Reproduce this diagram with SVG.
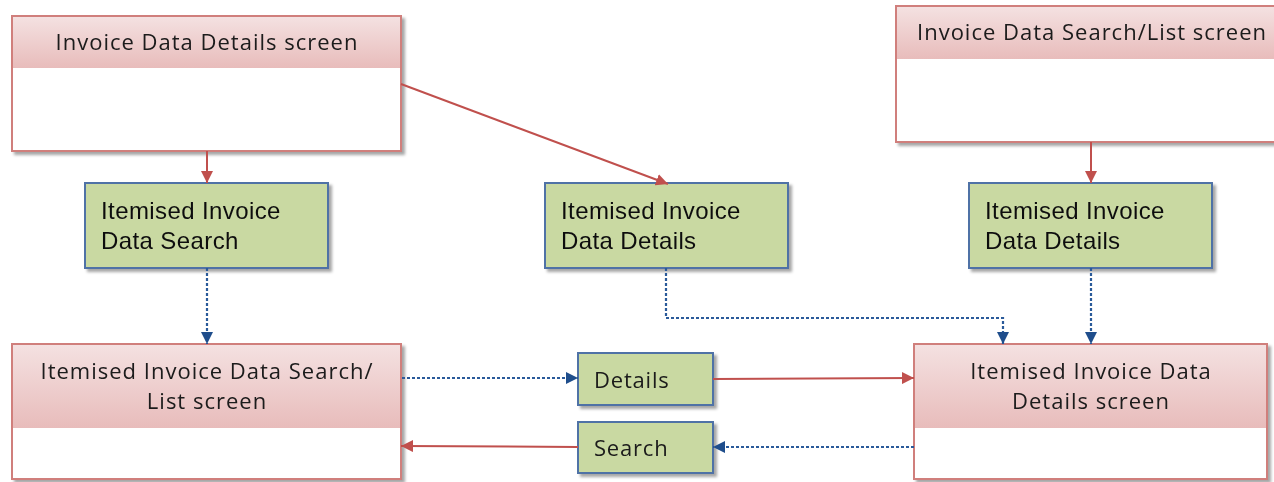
<svg xmlns="http://www.w3.org/2000/svg" width="1274" height="482" viewBox="0 0 1274 482">
<style>
.scr{fill:#ffffff;stroke:#d07f7c;stroke-width:2}
.hdr{fill:url(#pink)}
.grn{fill:#c9d9a2;stroke:#4f72a6;stroke-width:2}
.t1{font-family:"Open Sans","Liberation Sans",sans-serif;font-size:22px;letter-spacing:1px;fill:#1a1a1a}
.t3{font-family:"Open Sans","Liberation Sans",sans-serif;font-size:22px;letter-spacing:0.8px;fill:#1a1a1a}
.t2{font-family:"Liberation Sans",Arial,sans-serif;font-size:24px;letter-spacing:0.4px;fill:#111}
.red{stroke:#c0504d;stroke-width:2;fill:none}
.blu{stroke:#2a5a9a;stroke-width:2.2;fill:none;stroke-dasharray:3 2}
</style>
<defs>
<linearGradient id="pink" x1="0" y1="0" x2="0" y2="1">
<stop offset="0" stop-color="#f4e1e1"/>
<stop offset="1" stop-color="#e8bcbb"/>
</linearGradient>
<filter id="sh" x="-5%" y="-5%" width="115%" height="125%">
<feDropShadow dx="3" dy="3" stdDeviation="1.5" flood-color="#000" flood-opacity="0.35"/>
</filter>
<marker id="ar" viewBox="0 0 10 10" refX="10" refY="5" markerWidth="6" markerHeight="6" markerUnits="strokeWidth" orient="auto">
<path d="M0,0 L10,5 L0,10 z" fill="#c0504d"/>
</marker>
<marker id="ab" viewBox="0 0 10 10" refX="10" refY="5" markerWidth="5.5" markerHeight="5.5" markerUnits="strokeWidth" orient="auto">
<path d="M0,0 L10,5 L0,10 z" fill="#1f4e8c"/>
</marker>
</defs>

<g id="invoice-details-screen" filter="url(#sh)">
<rect class="scr" x="12" y="16" width="389" height="135"/>
<rect class="hdr" x="13" y="17" width="387" height="51"/>
<text class="t1" x="207" y="50" text-anchor="middle">Invoice Data Details screen</text>
</g>

<g id="invoice-search-list-screen" filter="url(#sh)">
<rect class="scr" x="896" y="6" width="390" height="136"/>
<rect class="hdr" x="897" y="7" width="390" height="52"/>
<text class="t1" x="917" y="40">Invoice Data Search/List screen</text>
</g>

<g id="itemised-search" filter="url(#sh)">
<rect class="grn" x="85" y="183" width="243" height="85"/>
<text class="t2" x="101" y="219">Itemised Invoice</text>
<text class="t2" x="101" y="249">Data Search</text>
</g>

<g id="itemised-details-mid" filter="url(#sh)">
<rect class="grn" x="545" y="183" width="243" height="85"/>
<text class="t2" x="561" y="219">Itemised Invoice</text>
<text class="t2" x="561" y="249">Data Details</text>
</g>

<g id="itemised-details-right" filter="url(#sh)">
<rect class="grn" x="969" y="183" width="243" height="85"/>
<text class="t2" x="985" y="219">Itemised Invoice</text>
<text class="t2" x="985" y="249">Data Details</text>
</g>

<g id="itemised-search-list-screen" filter="url(#sh)">
<rect class="scr" x="12" y="344" width="389" height="135"/>
<rect class="hdr" x="13" y="345" width="387" height="83"/>
<text class="t1" x="207" y="379" text-anchor="middle">Itemised Invoice Data Search/</text>
<text class="t1" x="207" y="409" text-anchor="middle">List screen</text>
</g>

<g id="itemised-details-screen" filter="url(#sh)">
<rect class="scr" x="914" y="344" width="353" height="135"/>
<rect class="hdr" x="915" y="345" width="351" height="83"/>
<text class="t1" x="1091" y="379" text-anchor="middle">Itemised Invoice Data</text>
<text class="t1" x="1091" y="409" text-anchor="middle">Details screen</text>
</g>

<g id="details-btn" filter="url(#sh)">
<rect class="grn" x="578" y="353" width="135" height="52"/>
<text class="t3" x="594" y="388">Details</text>
</g>

<g id="search-btn" filter="url(#sh)">
<rect class="grn" x="578" y="422" width="135" height="51"/>
<text class="t3" x="594" y="456">Search</text>
</g>

<g id="connectors">
<line class="red" x1="207" y1="151" x2="207" y2="183" marker-end="url(#ar)"/>
<line class="red" x1="401" y1="84" x2="668" y2="184" marker-end="url(#ar)"/>
<line class="red" x1="1091" y1="142" x2="1091" y2="183" marker-end="url(#ar)"/>
<line class="blu" x1="207" y1="268" x2="207" y2="344" marker-end="url(#ab)"/>
<polyline class="blu" points="666,268 666,318 1003,318 1003,344" marker-end="url(#ab)"/>
<line class="blu" x1="1091" y1="268" x2="1091" y2="344" marker-end="url(#ab)"/>
<line class="blu" x1="402" y1="378" x2="578" y2="378" marker-end="url(#ab)"/>
<line class="red" x1="713" y1="379" x2="914" y2="378" marker-end="url(#ar)"/>
<line class="blu" x1="914" y1="447" x2="713" y2="447" marker-end="url(#ab)"/>
<line class="red" x1="578" y1="447" x2="401" y2="446" marker-end="url(#ar)"/>
</g>
</svg>
